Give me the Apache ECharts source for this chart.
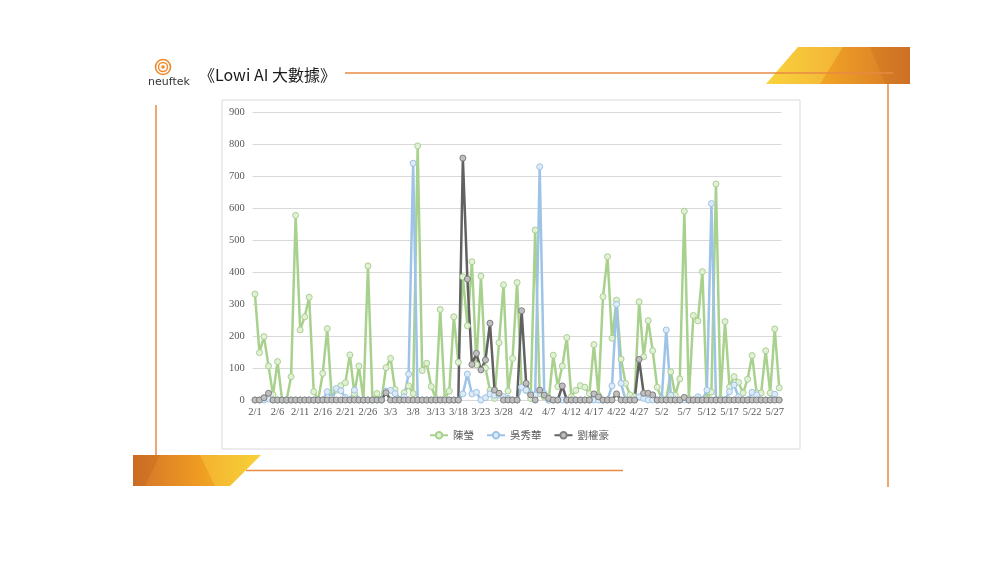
<!DOCTYPE html>
<html><head><meta charset="utf-8">
<script src="https://cdn.jsdelivr.net/npm/echarts@6/dist/echarts.min.js"></script>
<style>html,body{margin:0;padding:0;background:#fff}#c{width:1000px;height:563px}</style>
</head><body><div id="c"></div>
<script>
const categories = [
'2/1','2/2','2/3','2/4','2/5','2/6','2/7','2/8','2/9','2/10','2/11','2/12','2/13','2/14','2/15','2/16','2/17','2/18','2/19','2/20','2/21','2/22','2/23','2/24','2/25','2/26','2/27','2/28',
'3/1','3/2','3/3','3/4','3/5','3/6','3/7','3/8','3/9','3/10','3/11','3/12','3/13','3/14','3/15','3/16','3/17','3/18','3/19','3/20','3/21','3/22','3/23','3/24','3/25','3/26','3/27','3/28','3/29','3/30','3/31',
'4/1','4/2','4/3','4/4','4/5','4/6','4/7','4/8','4/9','4/10','4/11','4/12','4/13','4/14','4/15','4/16','4/17','4/18','4/19','4/20','4/21','4/22','4/23','4/24','4/25','4/26','4/27','4/28','4/29','4/30',
'5/1','5/2','5/3','5/4','5/5','5/6','5/7','5/8','5/9','5/10','5/11','5/12','5/13','5/14','5/15','5/16','5/17','5/18','5/19','5/20','5/21','5/22','5/23','5/24','5/25','5/26','5/27','5/28'];

const seriesNames = ['陳瑩','吳秀華','劉權豪'];

const chenYing = [
331,148,198,106,16,120,0,0,73,577,219,260,321,26,0,83,223,5,31,45,54,141,20,106,0,419,0,20,
0,101,130,33,0,23,44,20,794,92,115,42,5,283,5,28,260,118,385,232,432,110,387,100,30,5,179,360,28,130,367,
40,30,5,531,20,10,0,140,42,106,195,10,30,45,40,20,173,15,323,448,193,312,128,52,16,10,307,135,248,154,
40,3,0,88,15,66,590,5,264,247,401,5,25,675,5,245,40,73,55,22,65,139,22,22,154,22,222,38];

const wuXiuHua = [
0,0,0,3,0,0,0,0,0,0,0,0,0,0,0,0,26,5,36,29,8,0,31,0,0,0,0,0,
0,28,30,20,0,10,81,740,0,0,0,0,0,0,0,0,0,0,19,81,19,24,0,7,19,15,15,10,5,0,0,
40,31,20,15,729,20,0,0,0,0,0,0,0,0,0,0,0,0,0,0,44,299,52,0,0,0,10,5,0,
0,0,5,219,15,0,0,0,0,0,10,0,31,614,0,0,0,26,47,10,0,0,24,16,0,0,0,18];

const liuQuanHao = [
0,0,7,21,0,0,0,0,0,0,0,0,0,0,0,0,0,0,0,0,0,0,0,0,0,0,0,0,
0,23,0,0,0,0,0,0,0,0,0,0,0,0,0,0,0,0,756,378,111,146,94,125,240,31,21,0,0,0,0,
279,52,16,0,31,15,5,0,0,44,0,0,0,0,0,0,19,10,0,0,0,19,0,0,0,0,127,21,21,16,
0,0,0,0,0,0,8,0,0,0,0,0,0,0,0,0,0,0,0,0,0,0,0,0,0,0,0,0];

const yTicks = {min:0, max:900, step:100};

const chart = echarts.init(document.getElementById('c'), null, {renderer:'canvas'});
const serif = 'Liberation Serif, Times New Roman, serif';
const cjk = 'Noto Sans CJK TC, Noto Sans CJK SC, sans-serif';

function mkSeries(name, data, line, fill, border){
  return {
    name, type:'line', data,
    symbol:'circle', symbolSize:6, showSymbol:true, showAllSymbol:true,
    lineStyle:{color:line, width:2.5},
    itemStyle:{color:fill, borderColor:border, borderWidth:1},
    emphasis:{disabled:true}, animation:false
  };
}

const option = {
  animation:false,
  graphic:[
    {type:'rect', z:-10, shape:{x:222, y:100, width:578, height:349}, style:{fill:'#fff', stroke:'#d9d9d9', lineWidth:1}},
    // top-right decorative polygon
    {type:'polygon', shape:{points:[[798,47],[910,47],[910,84],[766,84]]},
     style:{fill:new echarts.graphic.LinearGradient(0,0,1,0,[{offset:0,color:'#F6CB2E'},{offset:0.45,color:'#EE9F25'},{offset:1,color:'#D4762A'}])}},
    {type:'polygon', shape:{points:[[798,47],[843,47],[820,84],[766,84]]}, style:{fill:'rgba(255,230,90,0.35)'}},
    {type:'polygon', shape:{points:[[870,47],[910,47],[910,84],[885,84]]}, style:{fill:'rgba(180,90,20,0.18)'}},
    // bottom-left decorative polygon
    {type:'polygon', shape:{points:[[133,455],[261,455],[230,486],[133,486]]},
     style:{fill:new echarts.graphic.LinearGradient(0,0,1,0,[{offset:0,color:'#D4732A'},{offset:0.5,color:'#EE9A22'},{offset:1,color:'#F6CB2E'}])}},
    {type:'polygon', shape:{points:[[133,455],[160,455],[145,486],[133,486]]}, style:{fill:'rgba(170,80,20,0.2)'}},
    {type:'polygon', shape:{points:[[200,455],[261,455],[230,486],[215,486]]}, style:{fill:'rgba(255,225,80,0.3)'}},
    // orange lines
    {type:'line', shape:{x1:345, y1:73, x2:893, y2:73}, style:{stroke:'#E98A45', lineWidth:1.5}},
    {type:'line', shape:{x1:888, y1:84, x2:888, y2:487}, style:{stroke:'#E98A45', lineWidth:1.5}},
    {type:'line', shape:{x1:156, y1:105, x2:156, y2:455}, style:{stroke:'#E98A45', lineWidth:1.5}},
    {type:'line', shape:{x1:246, y1:470.5, x2:623, y2:470.5}, style:{stroke:'#E98A45', lineWidth:1.5}},
    // logo
    {type:'circle', shape:{cx:163, cy:67, r:7.5}, style:{fill:'none', stroke:'#EE8A2A', lineWidth:1.6}},
    {type:'circle', shape:{cx:163, cy:67, r:4.5}, style:{fill:'none', stroke:'#EE8A2A', lineWidth:1.4}},
    {type:'circle', shape:{cx:163, cy:67, r:1.8}, style:{fill:'#EE8A2A'}},
    {type:'text', style:{x:148, y:82, text:'neuftek', fill:'#333', font:'11px "DejaVu Sans"', textVerticalAlign:'middle'}},
    // title
    {type:'text', style:{x:199, y:75, text:'《Lowi AI 大數據》', fill:'#1a1a1a', font:'16px "Noto Sans CJK TC"', textVerticalAlign:'middle'}}
  ],
  legend:{
    data:seriesNames, left:424, top:425, itemWidth:18, itemHeight:8, itemGap:12,
    textStyle:{color:'#595959', fontSize:10.5, fontFamily:cjk}
  },
  grid:{left:252.7, right:218.5, top:112, bottom:163},
  xAxis:{
    type:'category', data:categories, boundaryGap:true,
    axisLine:{show:true, lineStyle:{color:'#d9d9d9'}}, axisTick:{show:false},
    axisLabel:{interval:4, color:'#595959', fontSize:10.5, fontFamily:serif, margin:7}
  },
  yAxis:{
    type:'value', min:yTicks.min, max:yTicks.max, interval:yTicks.step,
    axisLine:{show:false}, axisTick:{show:false},
    axisLabel:{color:'#595959', fontSize:10.5, fontFamily:serif, margin:8},
    splitLine:{lineStyle:{color:'#d9d9d9', width:1}}
  },
  series:[
    mkSeries(seriesNames[0], chenYing, '#A9D18E', '#E2F0D9', '#A9D18E'),
    mkSeries(seriesNames[1], wuXiuHua, '#9DC3E6', '#DEEBF7', '#9DC3E6'),
    mkSeries(seriesNames[2], liuQuanHao, '#616161', '#BFBFBF', '#7F7F7F')
  ]
};
chart.setOption(option);
</script></body></html>
